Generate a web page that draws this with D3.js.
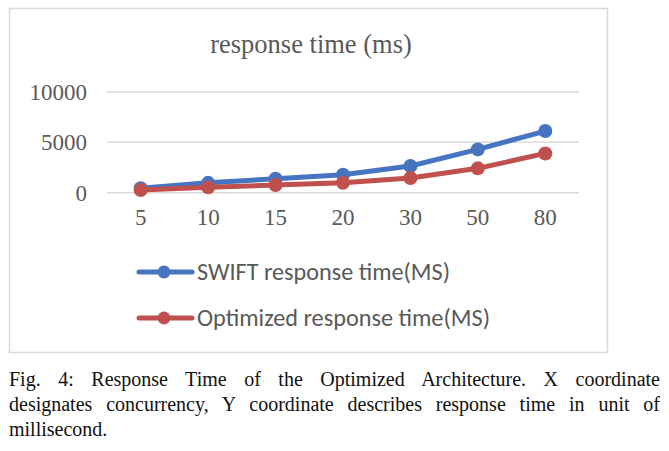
<!DOCTYPE html>
<html>
<head>
  <meta charset="UTF-8">
  <title>response time (ms)</title>
</head>
<body style="margin:0">
  <script src="https://cdn.jsdelivr.net/npm/d3@7/dist/d3.min.js"></script>
  <script>
    // data
    let categories = ['5', '10', '15', '20', '30', '50', '80'];
    let swift = [440, 980, 1390, 1790, 2650, 4300, 6120];
    let optimized = [270, 530, 760, 990, 1460, 2420, 3900];
    let yTicks = [0, 5000, 10000];
    let seriesNames = ['SWIFT response time(MS)', 'Optimized response time(MS)'];
    let captionLines = [
      'Fig. 4: Response Time of the Optimized Architecture. X coordinate',
      'designates concurrency, Y coordinate describes response time in unit of',
      'millisecond.'
    ];

    let width = 669;
    let height = 451;
    let svg = d3.select('body')
                .append('svg')
                .attr('width', width)
                .attr('height', height);

    let serif = '"Liberation Serif"';
    let sans = '"Carlito"';
    let grey = '#595959';
    let colors = ['#4674c1', '#c0504d'];

    // chart frame
    svg.append('rect')
       .attr('x', 9.5).attr('y', 8.5)
       .attr('width', 598).attr('height', 344)
       .attr('fill', '#fff')
       .attr('stroke', '#d9d9d9')
       .attr('stroke-width', 1.5);

    // title
    svg.append('text')
       .style('font-family', serif)
       .attr('x', 311).attr('y', 53)
       .attr('text-anchor', 'middle')
       .attr('font-size', 26.5)
       .attr('fill', grey)
       .text('response time (ms)');

    // scales
    let x = d3.scaleBand()
              .domain(categories)
              .range([107, 579]);
    let y = d3.scaleLinear()
              .domain([0, 10000])
              .range([192.7, 92]);

    // gridlines
    svg.append('g')
       .selectAll('line')
       .data(yTicks)
       .enter()
       .append('line')
       .attr('x1', 107).attr('x2', 579)
       .attr('y1', d => y(d)).attr('y2', d => y(d))
       .attr('stroke', '#d9d9d9')
       .attr('stroke-width', 1.5);

    // y axis labels
    let yAxis = d3.axisLeft(y)
                  .tickValues(yTicks)
                  .tickFormat(d3.format('d'))
                  .tickSize(0)
                  .tickPadding(20);
    let gy = svg.append('g')
       .attr('transform', 'translate(107, 0)')
       .call(yAxis);
    gy.select('.domain').remove();
    gy.selectAll('text')
      .style('font-family', serif)
      .attr('font-size', 23)
      .attr('fill', grey);

    // x axis labels
    let xAxis = d3.axisBottom(x).tickSize(0).tickPadding(16);
    let gx = svg.append('g')
       .attr('transform', 'translate(0, 192.7)')
       .call(xAxis);
    gx.select('.domain').remove();
    gx.selectAll('text')
      .style('font-family', serif)
      .attr('font-size', 23)
      .attr('fill', grey);

    // lines
    let line = d3.line()
                 .x((d, i) => x(categories[i]) + x.bandwidth() / 2)
                 .y(d => y(d));

    [swift, optimized].forEach(function(data, k) {
      svg.append('path')
         .datum(data)
         .attr('d', line)
         .attr('fill', 'none')
         .attr('stroke', colors[k])
         .attr('stroke-width', 5)
         .attr('stroke-linejoin', 'round')
         .attr('stroke-linecap', 'round');
      svg.append('g')
         .selectAll('circle')
         .data(data)
         .enter()
         .append('circle')
         .attr('cx', (d, i) => x(categories[i]) + x.bandwidth() / 2)
         .attr('cy', d => y(d))
         .attr('r', 7)
         .attr('fill', colors[k]);
    });

    // legend
    let legend = svg.append('g');
    seriesNames.forEach(function(name, k) {
      let ly = 272 + k * 46;
      legend.append('line')
            .attr('x1', 139).attr('x2', 192)
            .attr('y1', ly).attr('y2', ly)
            .attr('stroke', colors[k])
            .attr('stroke-width', 5)
            .attr('stroke-linecap', 'round');
      legend.append('circle')
            .attr('cx', 164).attr('cy', ly)
            .attr('r', 6.5)
            .attr('fill', colors[k]);
      legend.append('text')
            .style('font-family', sans)
            .attr('x', 197).attr('y', ly + 8)
            .attr('font-size', 24)
            .attr('fill', grey)
            .attr('textLength', k === 0 ? 253 : 293)
            .attr('lengthAdjust', 'spacingAndGlyphs')
            .text(name);
    });

    // caption, justified by widening the word gaps
    captionLines.forEach(function(t, i) {
      let txt = svg.append('text')
         .style('font-family', serif)
         .attr('x', 9).attr('y', 386 + i * 25)
         .attr('font-size', 20)
         .attr('fill', '#111')
         .text(t);
      if (i < captionLines.length - 1) {
        let w = txt.node().getComputedTextLength();
        let gaps = t.split(' ').length - 1;
        txt.attr('word-spacing', (651 - w) / gaps);
      }
    });
  </script>
</body>
</html>
